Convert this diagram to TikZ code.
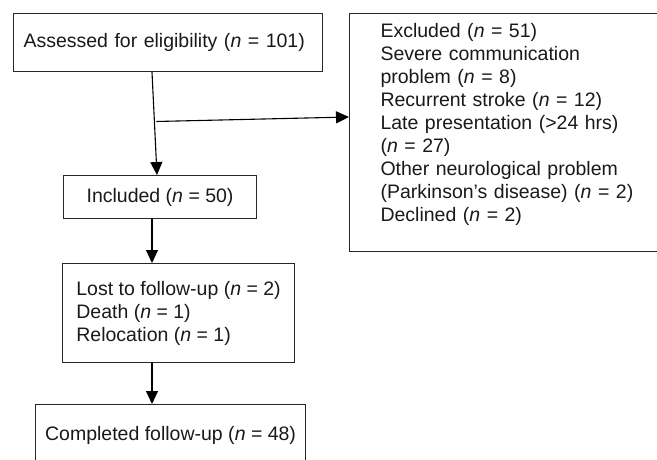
\documentclass[tikz,border=0pt]{standalone}
\usepackage{fontspec}
\setmainfont{Liberation Sans}
\usetikzlibrary{arrows.meta,calc}
\begin{document}
\begin{tikzpicture}[x=1pt,y=-1pt,
  box/.style={draw=black!85, line width=1.1pt, rectangle, anchor=north west, inner ysep=0pt,
    font=\fontsize{19.5}{23}\selectfont, text=black!90, align=left},
  arr/.style={draw=black, line width=1.1pt, -{Triangle[length=13pt,width=12pt]}}]
\useasboundingbox (0,0) rectangle (657,459);
\clip (0,0) rectangle (657,459);
\node[box, minimum width=309pt, minimum height=58pt, text width=289pt, inner xsep=10pt] (assess) at (13,13)
  {Assessed for eligibility (\textit{n} = 101)};
\node[box, minimum width=193pt, minimum height=43pt] (incl) at (63,175)
  {Included (\textit{n} = 50)};
\node[box, minimum width=232pt, minimum height=99pt] (lost) at (62,263)
  {Lost to follow-up (\textit{n} = 2)\\Death (\textit{n} = 1)\\Relocation (\textit{n} = 1)};
\node[box, minimum width=270pt, minimum height=61pt] (comp) at (35,404)
  {Completed follow-up (\textit{n} = 48)};
\node[box, minimum width=320pt, minimum height=238pt, text width=258pt, inner xsep=31pt] (excl) at (349,13)
  {Excluded (\textit{n} = 51)\\
   Severe communication\\
   problem (\textit{n} = 8)\\
   Recurrent stroke (\textit{n} = 12)\\
   Late presentation (>24 hrs)\\
   (\textit{n} = 27)\\
   Other neurological problem\\
   (Parkinson’s disease) (\textit{n} = 2)\\
   Declined (\textit{n} = 2)\rule[-20pt]{0pt}{1pt}};
\draw[arr] ([xshift=139pt]assess.south west) -- coordinate[pos=0.48] (br) ([xshift=94pt]incl.north west);
\draw[arr] ([xshift=2pt]br) -- ([yshift=-104pt]excl.north west);
\draw[arr] ([xshift=89pt]incl.south west) -- ([xshift=90pt]lost.north west);
\draw[arr] ([xshift=90pt]lost.south west) -- ([xshift=117pt]comp.north west);
\end{tikzpicture}
\end{document}
